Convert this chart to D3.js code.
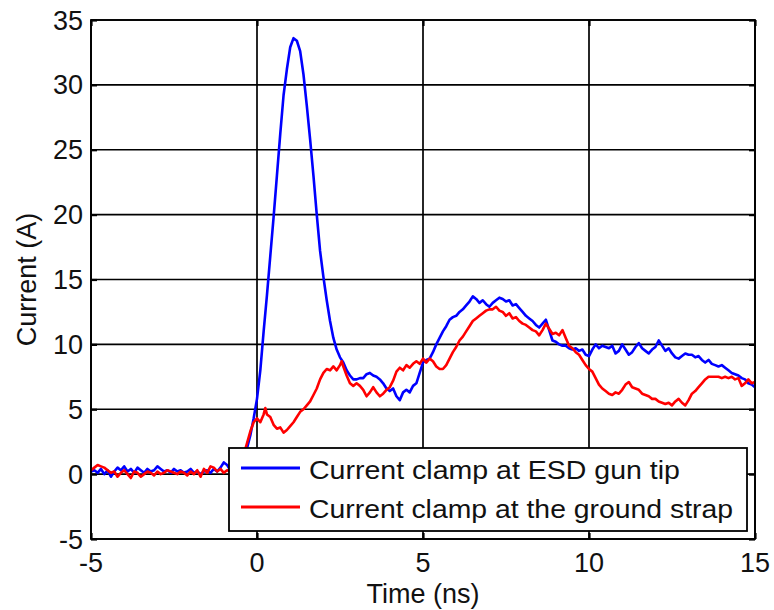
<!DOCTYPE html>
<html><head><meta charset="utf-8">
<script src="https://cdn.jsdelivr.net/npm/d3@7"></script>
<style>body{margin:0;background:#fff;} svg{display:block;font-family:"Liberation Sans",Arial,sans-serif;}</style>
</head><body>
<svg id="c" width="774" height="610"></svg>
<script>
const xTicks = [-5, 0, 5, 10, 15];
const yTicks = [-5, 0, 5, 10, 15, 20, 25, 30, 35];
const seriesNames = ["Current clamp at ESD gun tip", "Current clamp at the ground strap"];
const seriesColors = ["#0000ff", "#ff0000"];

const blueT = [-5.0,-4.9,-4.8,-4.7,-4.6,-4.5,-4.4,-4.3,-4.2,-4.1,-4.0,-3.9,-3.8,-3.7,-3.6,-3.5,-3.4,-3.3,-3.2,-3.1,-3.0,-2.9,-2.8,-2.7,-2.6,-2.5,-2.4,-2.3,-2.2,-2.1,-2.0,-1.9,-1.8,-1.7,-1.6,-1.5,-1.4,-1.3,-1.2,-1.1,-1.0,-0.9,-0.8,-0.7,-0.6,-0.5,-0.4,-0.3,-0.2,-0.1,0.0,0.1,0.2,0.3,0.4,0.5,0.6,0.7,0.8,0.9,1.0,1.1,1.2,1.3,1.4,1.5,1.6,1.7,1.8,1.9,2.0,2.1,2.2,2.3,2.4,2.5,2.6,2.7,2.8,2.9,3.0,3.1,3.2,3.3,3.4,3.5,3.6,3.7,3.8,3.9,4.0,4.1,4.2,4.3,4.4,4.5,4.6,4.7,4.8,4.9,5.0,5.1,5.2,5.3,5.4,5.5,5.6,5.7,5.8,5.9,6.0,6.1,6.2,6.3,6.4,6.5,6.6,6.7,6.8,6.9,7.0,7.1,7.2,7.3,7.4,7.5,7.6,7.7,7.8,7.9,8.0,8.1,8.2,8.3,8.4,8.5,8.6,8.7,8.8,8.9,9.0,9.1,9.2,9.3,9.4,9.5,9.6,9.7,9.8,9.9,10.0,10.1,10.2,10.3,10.4,10.5,10.6,10.7,10.8,10.9,11.0,11.1,11.2,11.3,11.4,11.5,11.6,11.7,11.8,11.9,12.0,12.1,12.2,12.3,12.4,12.5,12.6,12.7,12.8,12.9,13.0,13.1,13.2,13.3,13.4,13.5,13.6,13.7,13.8,13.9,14.0,14.1,14.2,14.3,14.4,14.5,14.6,14.7,14.8,14.9,15.0];
const blueV = [0.2,0.3,0.1,0.4,0.0,0.3,-0.2,0.2,0.5,0.3,0.6,0.2,0.4,0.1,0.5,0.3,0.1,0.4,0.2,0.3,0.6,0.4,0.2,0.3,0.1,0.4,0.2,0.3,0.1,0.2,0.4,0.1,0.2,0.0,0.2,0.3,0.1,0.4,0.2,0.5,0.9,0.7,0.3,0.5,0.4,0.6,1.2,2.0,3.0,4.3,5.8,8.0,11.0,13.8,16.8,19.8,23.0,26.2,29.2,31.2,32.9,33.6,33.4,32.6,30.8,28.4,25.8,23.0,20.0,17.2,15.2,13.4,11.8,10.5,9.6,9.0,8.6,8.0,7.6,7.3,7.3,7.4,7.4,7.7,7.8,7.6,7.5,7.3,7.0,6.6,6.4,6.6,6.0,5.7,6.3,6.5,6.3,6.8,7.0,7.8,8.6,8.8,8.9,9.4,10.0,10.5,11.0,11.4,11.9,12.1,12.2,12.5,12.7,13.0,13.3,13.7,13.5,13.2,13.4,13.1,12.9,13.2,13.4,13.6,13.5,13.3,13.4,13.0,13.1,12.8,12.5,12.2,12.0,11.8,11.5,11.3,11.6,11.9,11.1,10.3,10.2,10.0,9.9,9.9,9.7,9.6,9.7,9.5,9.6,9.2,9.1,9.6,10.0,9.7,9.9,9.8,9.7,9.9,9.3,9.5,10.0,9.6,9.2,9.4,9.8,10.1,9.7,9.5,9.3,9.6,9.8,10.3,9.9,9.5,9.7,9.3,9.0,8.9,9.1,9.3,9.2,9.2,9.0,9.1,8.8,8.6,8.8,8.5,8.4,8.3,8.4,8.2,8.0,7.8,7.7,7.6,7.4,7.3,7.0,6.9,6.7];

const redT = [-5.0,-4.9,-4.8,-4.7,-4.6,-4.5,-4.4,-4.3,-4.2,-4.1,-4.0,-3.9,-3.8,-3.7,-3.6,-3.5,-3.4,-3.3,-3.2,-3.1,-3.0,-2.9,-2.8,-2.7,-2.6,-2.5,-2.4,-2.3,-2.2,-2.1,-2.0,-1.9,-1.8,-1.7,-1.6,-1.5,-1.4,-1.3,-1.2,-1.1,-1.0,-0.9,-0.8,-0.7,-0.6,-0.5,-0.4,-0.3,-0.2,-0.1,0.0,0.1,0.2,0.25,0.3,0.4,0.5,0.6,0.7,0.8,0.9,1.0,1.1,1.2,1.3,1.4,1.5,1.6,1.7,1.8,1.9,2.0,2.1,2.2,2.3,2.4,2.5,2.55,2.6,2.7,2.8,2.9,3.0,3.1,3.2,3.3,3.4,3.5,3.6,3.7,3.8,3.9,4.0,4.1,4.2,4.3,4.4,4.5,4.6,4.7,4.8,4.9,5.0,5.1,5.2,5.3,5.4,5.5,5.6,5.7,5.8,5.9,6.0,6.1,6.2,6.3,6.4,6.5,6.6,6.7,6.8,6.9,7.0,7.1,7.2,7.3,7.4,7.5,7.6,7.7,7.8,7.9,8.0,8.1,8.2,8.3,8.4,8.5,8.6,8.7,8.8,8.9,9.0,9.1,9.2,9.3,9.4,9.5,9.6,9.7,9.8,9.9,10.0,10.1,10.2,10.3,10.4,10.5,10.6,10.7,10.8,10.9,11.0,11.1,11.2,11.3,11.4,11.5,11.6,11.7,11.8,11.9,12.0,12.1,12.2,12.3,12.4,12.5,12.6,12.7,12.8,12.9,13.0,13.1,13.2,13.3,13.4,13.5,13.6,13.7,13.8,13.9,14.0,14.1,14.2,14.3,14.4,14.5,14.6,14.7,14.8,14.9,15.0];
const redV = [0.3,0.5,0.7,0.6,0.5,0.3,0.1,0.2,-0.2,0.1,0.3,0.0,-0.3,0.2,0.1,-0.2,0.0,0.2,0.1,-0.1,0.2,0.0,0.1,0.3,0.2,0.1,0.0,0.2,0.1,-0.1,0.2,0.0,0.3,-0.2,0.4,0.1,0.6,0.5,0.2,0.4,0.1,0.3,0.2,0.1,0.3,0.6,1.5,2.4,3.3,4.0,4.3,4.0,4.6,5.1,4.6,4.4,3.8,3.5,3.6,3.2,3.4,3.7,4.0,4.4,4.8,5.0,5.3,5.6,6.1,6.6,7.3,7.8,8.1,8.0,8.3,8.0,8.4,8.7,8.3,7.6,7.0,6.8,7.0,6.8,6.5,6.0,6.3,6.7,6.3,6.0,6.2,6.5,6.7,7.2,7.9,8.2,8.0,8.4,8.2,8.5,8.7,8.5,8.9,8.6,8.9,8.7,8.3,8.1,8.1,8.4,8.9,9.4,9.8,10.3,10.6,11.0,11.4,11.8,12.0,12.2,12.4,12.6,12.7,12.7,12.9,12.6,12.5,12.2,12.4,12.0,12.1,11.8,11.6,11.5,11.3,11.1,11.0,10.7,11.1,11.6,11.2,10.8,10.9,10.7,11.1,10.5,9.9,9.7,9.4,9.2,8.8,8.4,8.1,7.9,7.4,6.9,6.6,6.4,6.2,6.1,6.3,6.2,6.5,6.9,7.1,6.7,6.6,6.5,6.2,6.1,6.0,5.8,5.8,5.6,5.5,5.4,5.5,5.3,5.6,5.8,5.5,5.3,5.7,6.2,6.4,6.7,7.0,7.3,7.5,7.5,7.5,7.5,7.4,7.5,7.4,7.5,7.3,7.4,6.8,7.0,7.3,7.0,7.1];

const svg = d3.select("#c");
const L = 91, R = 755, T = 20, B = 539;
const x = d3.scaleLinear().domain([-5, 15]).range([L, R]);
const y = d3.scaleLinear().domain([-5, 35]).range([B, T]);

// grid
const g = svg.append("g");
g.selectAll(".gx").data(xTicks).enter().append("line")
  .attr("x1", d => x(d)).attr("x2", d => x(d)).attr("y1", T).attr("y2", B)
  .attr("stroke", "#000").attr("stroke-width", 1.7);
g.selectAll(".gy").data(yTicks).enter().append("line")
  .attr("x1", L).attr("x2", R).attr("y1", d => y(d)).attr("y2", d => y(d))
  .attr("stroke", "#000").attr("stroke-width", 1.7);

// inward ticks via axes
const ax = [
  svg.append("g").attr("transform", `translate(${L},0)`).call(d3.axisLeft(y).tickValues(yTicks).tickSize(-6).tickFormat("")),
  svg.append("g").attr("transform", `translate(${R},0)`).call(d3.axisRight(y).tickValues(yTicks).tickSize(-6).tickFormat("")),
  svg.append("g").attr("transform", `translate(0,${B})`).call(d3.axisBottom(x).tickValues(xTicks).tickSize(-6).tickFormat("")),
  svg.append("g").attr("transform", `translate(0,${T})`).call(d3.axisTop(x).tickValues(xTicks).tickSize(-6).tickFormat(""))
];
ax.forEach(a => { a.select(".domain").remove(); a.selectAll("line").attr("stroke", "#000").attr("stroke-width", 2.2); });

// lines
const line = d3.line().x(d => x(d[0])).y(d => y(d[1]));
const blueData = blueT.map((t, i) => [t, blueV[i]]);
const redData = redT.map((t, i) => [t, redV[i]]);
[blueData, redData].forEach((d, i) => {
  svg.append("path").datum(d).attr("d", line).attr("fill", "none")
    .attr("stroke", seriesColors[i]).attr("stroke-width", 2.6).attr("stroke-linejoin", "round");
});

// frame
svg.append("rect").attr("x", L).attr("y", T).attr("width", R - L).attr("height", B - T)
  .attr("fill", "none").attr("stroke", "#000").attr("stroke-width", 1.8);

// tick labels
svg.selectAll(".yl").data(yTicks).enter().append("text")
  .attr("x", 83).attr("y", d => y(d) + 9.5).attr("text-anchor", "end")
  .attr("font-size", 27).attr("fill", "#111").text(d => d);
svg.selectAll(".xl").data(xTicks).enter().append("text")
  .attr("x", d => x(d)).attr("y", 572).attr("text-anchor", "middle")
  .attr("font-size", 27).attr("fill", "#111").text(d => d);

// axis titles
svg.append("text").attr("x", x(5)).attr("y", 603).attr("text-anchor", "middle")
  .attr("font-size", 27).attr("fill", "#111").text("Time (ns)");
svg.append("text").attr("transform", `translate(36,${(T + B) / 2}) rotate(-90)`)
  .attr("text-anchor", "middle").attr("font-size", 27).attr("fill", "#111").text("Current (A)");

// legend
const lg = svg.append("g");
lg.append("rect").attr("x", 229).attr("y", 448).attr("width", 518).attr("height", 83)
  .attr("fill", "#fff").attr("stroke", "#000").attr("stroke-width", 1.8);
const legY = [468, 507];
const legW = [371, 424];
seriesNames.forEach((n, i) => {
  lg.append("line").attr("x1", 241).attr("x2", 300).attr("y1", legY[i]).attr("y2", legY[i])
    .attr("stroke", seriesColors[i]).attr("stroke-width", 2.8);
  lg.append("text").attr("x", 309).attr("y", legY[i] + 11).attr("font-size", 25).attr("fill", "#111")
    .attr("textLength", legW[i]).attr("lengthAdjust", "spacingAndGlyphs").text(n);
});
</script>
</body></html>
